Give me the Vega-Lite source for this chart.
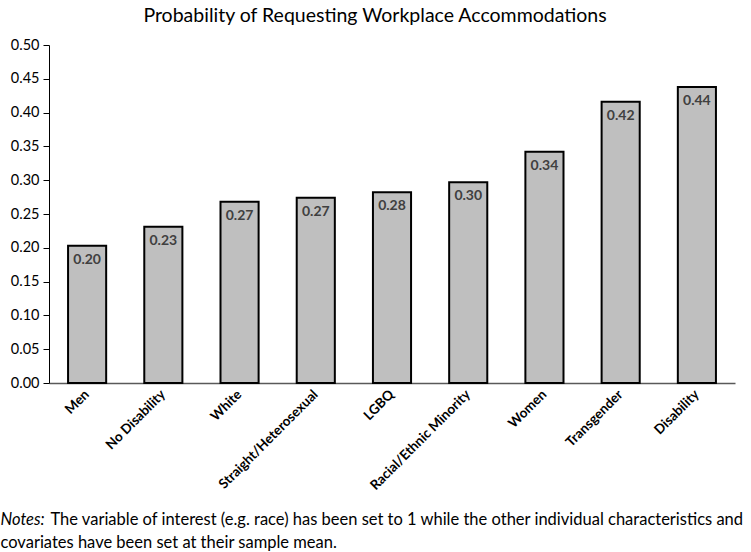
{
  "$schema": "https://vega.github.io/schema/vega-lite/v6.json",
  "width": 686,
  "height": 338,
  "autosize": "none",
  "padding": {"left": 49, "top": 45, "right": 16, "bottom": 169},
  "background": "white",
  "title": {
    "text": "Probability of Requesting Workplace Accommodations",
    "font": "Lato",
    "fontSize": 19.5,
    "fontWeight": "normal",
    "color": "#000000",
    "anchor": "middle",
    "dx": -17,
    "offset": 11
  },
  "config": {"view": {"stroke": null}, "font": "Lato"},
  "data": {
    "values": [
      {"group": "Men", "value": 0.203},
      {"group": "No Disability", "value": 0.231},
      {"group": "White", "value": 0.268},
      {"group": "Straight/Heterosexual", "value": 0.274},
      {"group": "LGBQ", "value": 0.282},
      {"group": "Racial/Ethnic Minority", "value": 0.297},
      {"group": "Women", "value": 0.342},
      {"group": "Transgender", "value": 0.416},
      {"group": "Disability", "value": 0.438}
    ]
  },
  "resolve": {"axis": {"y": "independent"}},
  "encoding": {
    "x": {
      "field": "group",
      "type": "nominal",
      "sort": null,
      "scale": {"paddingInner": 0.5, "paddingOuter": 0.25},
      "axis": {
        "title": "The variable of interest (e.g. race) has been set to 1 while the other individual characteristics and",
        "labelAngle": -45,
        "labelFontWeight": "bold",
        "labelFontSize": 13.5,
        "labelColor": "#000000",
        "labelAlign": "right",
        "labelBaseline": "middle",
        "labelPadding": 9,
        "labelLimit": 0,
        "ticks": false,
        "domainColor": "#595959",
        "domainWidth": 1.5,
        "titleFont": "Lato",
        "titleFontSize": 16.5,
        "titleFontWeight": "normal",
        "titleColor": "#000000",
        "titleAnchor": "start",
        "titleAlign": "left",
        "titleBaseline": "top",
        "titleX": 1,
        "titleY": 128
      }
    }
  },
  "layer": [
    {
      "mark": {"type": "bar", "fill": "#bfbfbf", "stroke": "#000000", "strokeWidth": 2},
      "encoding": {
        "y": {
          "field": "value",
          "type": "quantitative",
          "scale": {"domain": [0, 0.5]},
          "axis": {
            "title": "Notes:",
            "titleAngle": 0,
            "titleFont": "Lato",
            "titleFontStyle": "italic",
            "titleFontWeight": "normal",
            "titleFontSize": 16.5,
            "titleColor": "#000000",
            "titleAlign": "left",
            "titleBaseline": "top",
            "titleX": -49,
            "titleY": 466,
            "values": [0, 0.05, 0.1, 0.15, 0.2, 0.25, 0.3, 0.35, 0.4, 0.45, 0.5],
            "format": ".2f",
            "labelOverlap": false,
            "grid": false,
            "labelFontSize": 14.5,
            "labelColor": "#000000",
            "tickColor": "#000000",
            "domainColor": "#000000",
            "tickSize": 6,
            "labelPadding": 4
          }
        }
      }
    },
    {
      "mark": {"type": "text", "baseline": "top", "dy": 7, "fontWeight": "bold", "fontSize": 14, "color": "#404040"},
      "encoding": {
        "y": {
          "field": "value",
          "type": "quantitative",
          "axis": {
            "orient": "right",
            "labels": false,
            "ticks": false,
            "domain": false,
            "grid": false,
            "title": "covariates have been set at their sample mean.",
            "titleAngle": 0,
            "titleFont": "Lato",
            "titleFontSize": 16.5,
            "titleFontWeight": "normal",
            "titleColor": "#000000",
            "titleAlign": "left",
            "titleBaseline": "top",
            "titleX": -735,
            "titleY": 489
          }
        },
        "text": {"field": "value", "type": "quantitative", "format": ".2f"}
      }
    }
  ]
}
